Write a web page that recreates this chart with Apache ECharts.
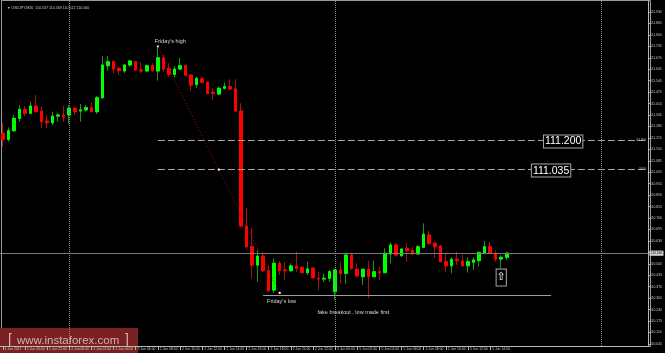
<!DOCTYPE html>
<html><head><meta charset="utf-8">
<script src="https://cdn.jsdelivr.net/npm/echarts@6/dist/echarts.min.js"></script>
<style>html,body{margin:0;padding:0;background:#000}#c{width:665px;height:353px}</style>
</head><body><div id="c"></div>
<script>
// ---- data (USDJPY, M30) ----
const opens  = [111.241,111.207,111.256,111.326,111.377,111.355,111.396,111.368,111.311,111.301,111.339,111.345,111.345,111.383,111.368,111.374,111.387,111.364,111.443,111.625,
111.648,111.610,111.595,111.629,111.648,111.601,111.595,111.625,111.595,111.670,111.610,111.576,111.606,111.625,111.572,111.519,111.550,111.531,111.474,111.464,
111.497,111.506,111.493,111.368,110.715,110.597,110.493,110.544,110.461,110.351,110.503,110.465,110.461,110.488,110.480,110.450,110.475,110.418,110.414,110.418,
110.342,110.465,110.446,110.550,110.469,110.427,110.469,110.427,110.455,110.450,110.556,110.607,110.546,110.588,110.575,110.556,110.594,110.664,110.617,110.601,
110.512,110.489,110.526,110.516,110.489,110.509,110.518,110.563,110.597,110.560,110.527,110.537];
const closes = [111.207,111.256,111.326,111.377,111.355,111.396,111.364,111.307,111.301,111.339,111.345,111.334,111.383,111.364,111.374,111.387,111.364,111.443,111.629,111.648,
111.606,111.597,111.629,111.652,111.601,111.595,111.625,111.597,111.670,111.606,111.576,111.606,111.625,111.572,111.515,111.553,111.531,111.468,111.468,111.497,
111.506,111.493,111.368,110.715,110.597,110.493,110.544,110.461,110.347,110.503,110.461,110.461,110.488,110.475,110.450,110.471,110.421,110.414,110.418,110.455,
110.465,110.446,110.550,110.475,110.431,110.469,110.427,110.455,110.450,110.560,110.607,110.550,110.584,110.575,110.556,110.597,110.668,110.617,110.597,110.512,
110.489,110.526,110.518,110.489,110.512,110.522,110.565,110.597,110.560,110.527,110.537,110.560];
const lows   = [111.163,111.193,111.250,111.307,111.339,111.351,111.360,111.270,111.270,111.288,111.307,111.307,111.298,111.345,111.307,111.364,111.360,111.351,111.440,111.597,
111.582,111.572,111.582,111.619,111.597,111.582,111.593,111.591,111.540,111.591,111.563,111.559,111.601,111.563,111.483,111.497,111.525,111.463,111.430,111.459,
111.493,111.487,111.364,110.711,110.588,110.418,110.398,110.455,110.342,110.335,110.437,110.408,110.455,110.455,110.446,110.437,110.418,110.351,110.398,110.398,
110.295,110.389,110.389,110.465,110.427,110.380,110.304,110.425,110.408,110.446,110.503,110.540,110.540,110.512,110.550,110.550,110.590,110.607,110.531,110.510,
110.455,110.446,110.493,110.486,110.450,110.465,110.484,110.560,110.554,110.512,110.475,110.522];
const highs  = [111.300,111.275,111.345,111.402,111.396,111.421,111.459,111.392,111.345,111.364,111.355,111.396,111.402,111.392,111.408,111.402,111.415,111.453,111.680,111.680,
111.653,111.619,111.635,111.657,111.650,111.644,111.633,111.639,111.735,111.686,111.639,111.623,111.670,111.633,111.576,111.563,111.563,111.534,111.498,111.506,
111.529,111.548,111.548,111.412,110.815,110.702,110.579,110.569,110.493,110.531,110.516,110.512,110.503,110.569,110.482,110.512,110.480,110.455,110.446,110.465,
110.475,110.512,110.560,110.553,110.503,110.475,110.518,110.518,110.484,110.588,110.620,110.620,110.588,110.617,110.597,110.607,110.730,110.688,110.626,110.607,
110.560,110.537,110.569,110.550,110.537,110.537,110.569,110.630,110.626,110.575,110.550,110.569];
const xTickLabels = ['1 Jun 2017','1 Jun 20:00','1 Jun 22:00','2 Jun 00:00','2 Jun 02:00','2 Jun 04:00','2 Jun 06:00','2 Jun 08:00','2 Jun 10:00','2 Jun 12:00','2 Jun 14:00','2 Jun 16:00','2 Jun 18:00','2 Jun 20:00','2 Jun 22:00','5 Jun 00:00','5 Jun 02:00','5 Jun 04:00','5 Jun 06:00','5 Jun 08:00','5 Jun 10:00','5 Jun 12:00','5 Jun 14:00'];
const yTicks = [110.045,110.110,110.175,110.240,110.305,110.370,110.435,110.500,110.565,110.630,110.695,110.760,110.825,110.890,110.955,111.020,111.085,111.150,111.215,111.280,111.345,111.410,111.475,111.540,111.605,111.670,111.735,111.800,111.865,111.930];
const currentPrice = 110.560;
const fibHigh = 111.735, fibLow = 110.335;
const fibLevels = [111.200, 111.035];
const fibLabels = ['61.8%', '50%'];
const fridayLow = 110.321;
const daySeparators = [12, 60, 108];
const totalSlots = 117;
const titleText = '\u25BC USDJPY,M30  110.537 110.569 110.522 110.560';

// ---- build ----
const cats = []; for (let i = 0; i < totalSlots; i++) cats.push('c' + i);
const wickData = opens.map((o, i) => [o, closes[i], lows[i], highs[i]]);
const bodyData = opens.map((o, i) => [o, closes[i], Math.min(o, closes[i]), Math.max(o, closes[i])]);
const F = 'Liberation Sans, Arial, sans-serif';
const txt = (coord, text, opts) => Object.assign({
  coord: coord, symbolSize: 0, symbol: 'rect',
  label: Object.assign({show: true, formatter: text, position: [0, 0], align: 'left', verticalAlign: 'middle',
    color: '#d8d8d8', fontSize: 5.5, fontFamily: F}, opts || {})
});
const dot = (coord, color) => ({coord: coord, symbol: 'rect', symbolSize: 2, itemStyle: {color: color}, label: {show: false}});

const chart = echarts.init(document.getElementById('c'), null, {renderer: 'canvas'});
chart.setOption({
  animation: false,
  backgroundColor: '#000',
  title: {text: titleText, left: 2, top: 1, textStyle: {color: '#c8c8c8', fontSize: 3.6, fontWeight: 'normal', fontFamily: F}},
  grid: {left: -1, right: 15, top: 1, bottom: 7, containLabel: false},
  xAxis: {
    type: 'category', data: cats, boundaryGap: true,
    axisLine: {lineStyle: {color: '#b8b8b8', width: 1}},
    axisTick: {show: true, length: 4, alignWithLabel: true, lineStyle: {color: '#b8b8b8'},
      interval: (i) => i % 4 === 0 && i / 4 < xTickLabels.length},
    axisLabel: {interval: (i) => i % 4 === 0 && i / 4 < xTickLabels.length,
      formatter: (v, i) => xTickLabels[i / 4] || '', align: 'left', padding: [0, 0, 0, 2],
      margin: 1.5, color: '#c8c8c8', fontSize: 3.4, fontFamily: F},
    splitLine: {show: false}
  },
  yAxis: {
    type: 'value', position: 'right', scale: true, min: 110.0334, max: 111.9925,
    axisLine: {show: true, lineStyle: {color: '#b8b8b8', width: 1}},
    axisTick: {show: true, length: 2, customValues: yTicks, lineStyle: {color: '#b8b8b8'}},
    axisLabel: {customValues: yTicks, formatter: (v) => v.toFixed(3), margin: 2, color: '#c8c8c8', fontSize: 3.4, fontFamily: F},
    splitLine: {show: false}
  },
  graphic: [
    {type: 'rect', z: -1, silent: true, shape: {x: 1.5, y: 0.5, width: 649, height: 346},
      style: {fill: null, stroke: '#9a9a9a', lineWidth: 1}},
    {type: 'rect', z: -1, silent: true, shape: {x: 0, y: 328, width: 138, height: 25}, style: {fill: '#7a2020'}},
    {type: 'text', z: -1, silent: true, x: 8, y: 340, style: {text: '[', fill: '#c9b5b5', font: '14px ' + F, verticalAlign: 'middle', textVerticalAlign: 'middle'}},
    {type: 'text', z: -1, silent: true, x: 17, y: 340.5, style: {text: 'www.instaforex.com', fill: '#c9b5b5', font: '11.5px ' + F, verticalAlign: 'middle', textVerticalAlign: 'middle'}},
    {type: 'text', z: -1, silent: true, x: 125, y: 340, style: {text: ']', fill: '#c9b5b5', font: '14px ' + F, verticalAlign: 'middle', textVerticalAlign: 'middle'}}
  ],
  series: [
    {
      name: 'wick', type: 'candlestick', data: wickData, barWidth: 3, z: 2,
      itemStyle: {color: '#159a15', color0: '#a31414', borderColor: '#159a15', borderColor0: '#a31414', borderWidth: 1}
    },
    {
      name: 'body', type: 'candlestick', data: bodyData, barWidth: 3, z: 3,
      itemStyle: {color: '#00ff00', color0: '#ff0000', borderColor: '#00ff00', borderColor0: '#ff0000', borderWidth: 1},
      markLine: {
        silent: true, symbol: 'none', animation: false, label: {show: false},
        data: [
          ...daySeparators.map(d => ({xAxis: d, lineStyle: {color: '#8c8c8c', type: [1, 1], width: 1}})),
          {yAxis: currentPrice, lineStyle: {color: '#7c7c7c', type: 'solid', width: 1},
            label: {show: true, position: 'end', formatter: currentPrice.toFixed(3), distance: 1.5,
              backgroundColor: '#d4d4d4', color: '#000', fontSize: 3.4, fontFamily: F, padding: [1, 1]}},
          ...fibLevels.map(l => [{coord: [28, l], lineStyle: {color: '#a8a8a8', type: [7, 3], width: 1}}, {coord: [totalSlots - 1, l]}]),
          [{coord: [28, fibHigh], lineStyle: {color: '#a01010', type: [1, 2], width: 1}}, {coord: [50, fibLow]}],
          [{coord: [47, fridayLow], lineStyle: {color: '#a0a0a0', type: 'solid', width: 1}}, {coord: [99, fridayLow]}]
        ]
      },
      markPoint: {
        silent: true, animation: false,
        data: [
          dot([28, fibHigh], '#ffc8c8'),
          dot([39, (fibHigh + fibLow) / 2], '#ffffff'),
          dot([50, fibLow], '#ffffff'),
          txt([28, 111.7625], "Friday's high", {offset: [-3, 0]}),
          txt([47, 110.289], "Friday's low", {offset: [4, 0]}),
          txt([57, 110.2225], 'fake breakout , low made first', {offset: [-1, 0]}),
          txt([totalSlots - 1, fibLevels[0]], fibLabels[0], {align: 'right', verticalAlign: 'bottom', fontSize: 3.4, color: '#c8c8c8', offset: [1, 1]}),
          txt([totalSlots - 1, fibLevels[1]], fibLabels[1], {align: 'right', verticalAlign: 'bottom', fontSize: 3.4, color: '#c8c8c8', offset: [1, 1]}),
          txt([101, fibLevels[0]], fibLevels[0].toFixed(3), {align: 'center', fontSize: 10.5, color: '#ffffff',
            backgroundColor: '#000', borderColor: '#a8a8a8', borderWidth: 1, padding: [1, 1, 0, 1], offset: [1, 1]}),
          txt([99, fibLevels[1]], fibLevels[1].toFixed(3), {align: 'center', fontSize: 10.5, color: '#ffffff',
            backgroundColor: '#000', borderColor: '#a8a8a8', borderWidth: 1, padding: [1, 1, 0, 1], offset: [0, 1]}),
          txt([90, 110.422], '\u21E7', {align: 'center', fontSize: 11, fontFamily: 'DejaVu Sans', color: '#ffffff', lineHeight: 13,
            backgroundColor: '#000', borderColor: '#a8a8a8', borderWidth: 1, padding: [2, 0, 1, 0], offset: [0, 0]})
        ]
      }
    }
  ]
});
</script></body></html>
